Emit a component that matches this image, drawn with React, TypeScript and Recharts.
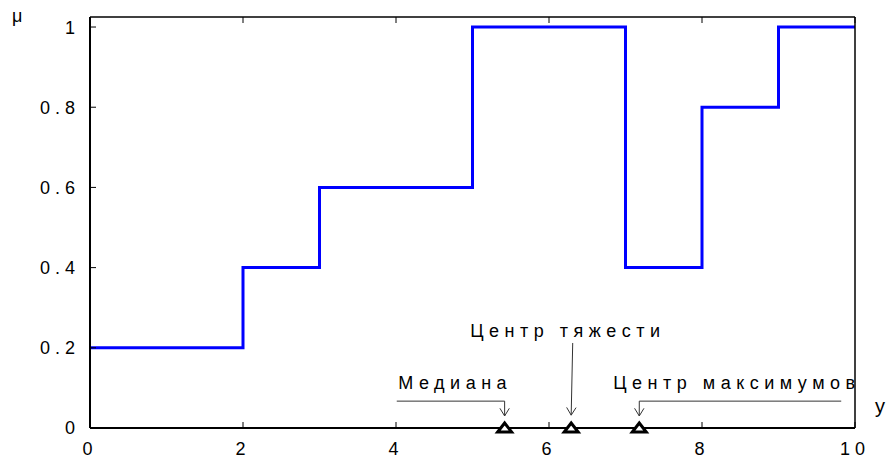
import {
  ComposedChart,
  Line,
  Scatter,
  XAxis,
  YAxis,
  ReferenceLine,
  ReferenceDot,
  Label
} from "recharts";

// membership function: value on each interval starting at the breakpoint
const yBreaks = [0, 2, 3, 5, 7, 8, 9, 10];
const muLevels = [0.2, 0.4, 0.6, 1, 0.4, 0.8, 1, 1];

const xTicks = [0, 2, 4, 6, 8, 10];
const muTicks = [0, 0.2, 0.4, 0.6, 0.8, 1];

// defuzzification results
const centerNames = ["Медиана", "Центр тяжести", "Центр максимумов"];
const centerValues = [5.42, 6.29, 7.18];

const stepData = yBreaks.map((y, i) => ({ y, mu: muLevels[i] }));
const centerData = centerValues.map((y) => ({ y, mu: 0 }));

// callout layout in data units: where the caption starts and the leader path to the marker
const callouts = [
  { text: centerNames[0], at: [4.03, 0.097], path: [[4.01, 0.067], [centerValues[0], 0.067], [centerValues[0], 0.03]] },
  { text: centerNames[1], at: [4.97, 0.227], path: [[6.31, 0.212], [centerValues[1], 0.032]] },
  { text: centerNames[2], at: [6.84, 0.097], path: [[9.82, 0.067], [centerValues[2], 0.067], [centerValues[2], 0.03]] }
];

const FONT = "'Liberation Sans', Arial, sans-serif";
const tickFont = { fontFamily: FONT, fontSize: 18, letterSpacing: 5, fill: "#000" };

const fmtMu = (v: number) => (v === 0 ? "0" : v === 1 ? "1" : v.toFixed(1));

// axes are 1px thick so they render; ticks point into the plot like a boxed frame
const BottomTick = ({ x, y, payload }: any) => (
  <g>
    <line x1={x} y1={y} x2={x} y2={y - 6} stroke="#000" strokeWidth={1} />
    <text x={x} y={y + 27} textAnchor="middle" style={tickFont}>
      {payload.value}
    </text>
  </g>
);

const TopTick = ({ x, y }: any) => (
  <line x1={x} y1={y} x2={x} y2={y + 6} stroke="#000" strokeWidth={1} />
);

const LeftTick = ({ x, y, payload }: any) => (
  <g>
    <line x1={x} y1={y} x2={x + 6} y2={y} stroke="#000" strokeWidth={1} />
    <text x={x - 10} y={y} dy="0.36em" textAnchor="end" style={tickFont}>
      {fmtMu(payload.value)}
    </text>
  </g>
);

const RightTick = ({ x, y }: any) => (
  <line x1={x} y1={y} x2={x - 6} y2={y} stroke="#000" strokeWidth={1} />
);

const Triangle = ({ cx, cy }: any) => (
  <polygon
    points={`${cx - 7},${cy + 4} ${cx + 7},${cy + 4} ${cx},${cy - 5}`}
    fill="#fff"
    stroke="#000"
    strokeWidth={3}
    strokeLinejoin="miter"
  />
);

const Leader = (p: any) => <line x1={p.x1} y1={p.y1} x2={p.x2} y2={p.y2} stroke="#333" strokeWidth={1} />;

const Arrow = (p: any) => {
  const { x1, y1, x2, y2 } = p;
  const a = Math.atan2(y2 - y1, x2 - x1);
  const len = 9;
  const w = 0.55;
  const d = `M${x2 - len * Math.cos(a - w)},${y2 - len * Math.sin(a - w)} L${x2},${y2} L${x2 - len * Math.cos(a + w)},${y2 - len * Math.sin(a + w)}`;
  return (
    <g>
      <line x1={x1} y1={y1} x2={x2} y2={y2} stroke="#333" strokeWidth={1} />
      <path d={d} fill="none" stroke="#333" strokeWidth={1} />
    </g>
  );
};

const Caption = (text: string) => ({ cx, cy }: any) => (
  <text x={cx} y={cy} style={{ fontFamily: FONT, fontSize: 18, letterSpacing: 5.5, fill: "#000" }}>
    {text}
  </text>
);

export default function App() {
  return (
    <div style={{ position: "absolute", left: 0, top: 0, background: "#fff" }}>
      <ComposedChart
        width={889}
        height={463}
        data={stepData}
        margin={{ top: 16, right: 33, bottom: 34, left: 89 }}
      >
        <XAxis
          dataKey="y"
          type="number"
          domain={[0, 10]}
          ticks={xTicks}
          height={1}
          tickSize={0}
          tickMargin={0}
          tickLine={false}
          axisLine={{ stroke: "#000", strokeWidth: 2 }}
          tick={<BottomTick />}
          interval={0}
        >
          <Label
            content={({ viewBox }: any) => (
              <text
                x={viewBox.x + viewBox.width + 20}
                y={viewBox.y - 15}
                style={{ fontFamily: FONT, fontSize: 20, fill: "#000" }}
              >
                y
              </text>
            )}
          />
        </XAxis>
        <XAxis
          xAxisId="top"
          orientation="top"
          dataKey="y"
          type="number"
          domain={[0, 10]}
          ticks={xTicks}
          height={1}
          tickSize={0}
          tickMargin={0}
          tickLine={false}
          axisLine={{ stroke: "#000", strokeWidth: 1.5 }}
          tick={<TopTick />}
          interval={0}
        />
        <YAxis
          type="number"
          domain={[0, 1.025]}
          ticks={muTicks}
          width={1}
          tickSize={0}
          tickMargin={0}
          tickLine={false}
          axisLine={{ stroke: "#000", strokeWidth: 2 }}
          tick={<LeftTick />}
          interval={0}
        >
          <Label
            content={({ viewBox }: any) => (
              <text
                x={viewBox.x - 77}
                y={viewBox.y + 5}
                style={{ fontFamily: FONT, fontSize: 18, fill: "#000" }}
              >
                μ
              </text>
            )}
          />
        </YAxis>
        <YAxis
          yAxisId="right"
          orientation="right"
          type="number"
          domain={[0, 1.025]}
          ticks={muTicks}
          width={1}
          tickSize={0}
          tickMargin={0}
          tickLine={false}
          axisLine={{ stroke: "#000", strokeWidth: 1.5 }}
          tick={<RightTick />}
          interval={0}
        />

        <Line
          type="stepAfter"
          dataKey="mu"
          stroke="#0000ff"
          strokeWidth={3}
          dot={false}
          activeDot={false}
          isAnimationActive={false}
        />

        {callouts.map((c) =>
          c.path.slice(1).map((pt, i) => {
            const prev = c.path[i];
            const last = i === c.path.length - 2;
            return (
              <ReferenceLine
                key={`${c.text}-${i}`}
                segment={[
                  { x: prev[0], y: prev[1] },
                  { x: pt[0], y: pt[1] }
                ]}
                shape={last ? Arrow : Leader}
              />
            );
          })
        )}
        {callouts.map((c) => (
          <ReferenceDot key={c.text} x={c.at[0]} y={c.at[1]} r={0} shape={Caption(c.text)} />
        ))}

        <Scatter data={centerData} dataKey="mu" shape={<Triangle />} isAnimationActive={false} />
      </ComposedChart>
    </div>
  );
}
